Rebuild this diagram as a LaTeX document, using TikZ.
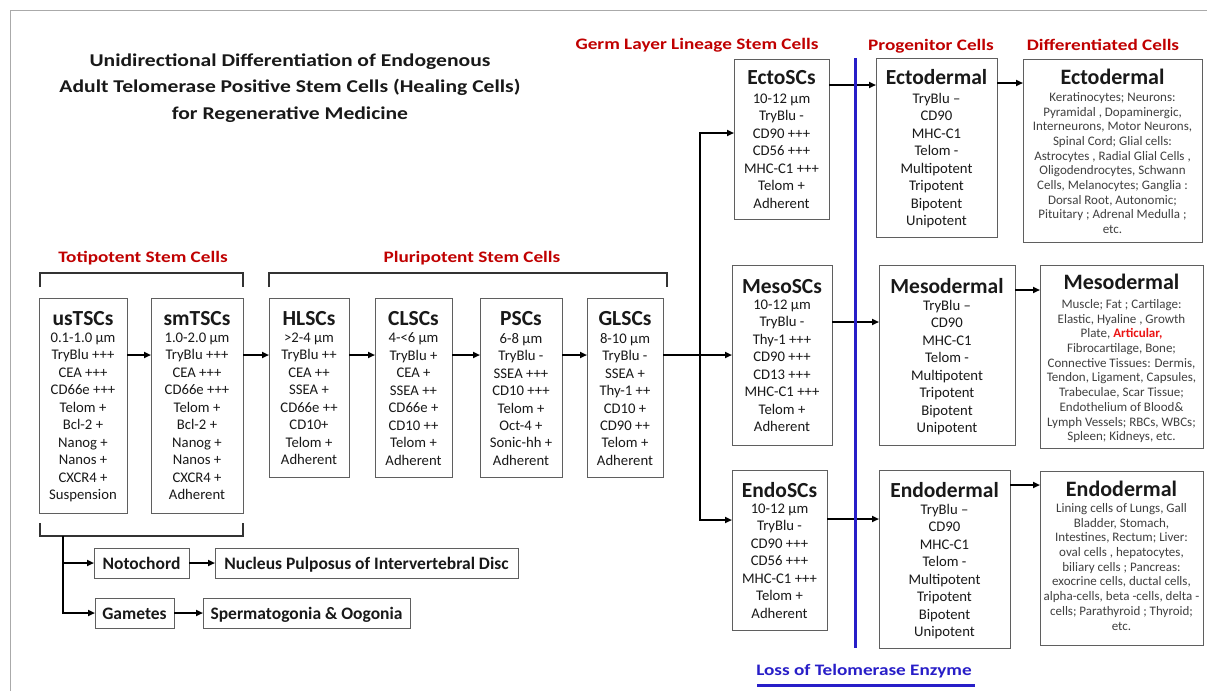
\documentclass[tikz,border=0pt]{standalone}
\usepackage{fontspec}
\setmainfont{Carlito}
\newfontfamily\widefont[FakeStretch=1.2]{Carlito}
\usetikzlibrary{arrows.meta,fit}
\definecolor{redlab}{RGB}{192,0,0}
\definecolor{redart}{RGB}{235,20,20}
\definecolor{bluel}{RGB}{40,30,200}
\definecolor{boxgray}{RGB}{95,95,95}
\definecolor{diffc}{RGB}{64,64,64}
\definecolor{txt}{RGB}{25,25,25}
\definecolor{framec}{RGB}{170,170,170}
\newcommand\mkbox[5]{%
  \path (#2,#3) coordinate (#1-nw) (#4,#5) coordinate (#1-se);
  \node[cellbox, fit=(#1-nw)(#1-se)] (#1) {};}
\newcommand\boxtext[5]{%
  \node[hdr] (#1-h) at (#1.center |- 0,#2+2) {#4};
  \node[bodytxt] (#1-b) at (#1.center |- 0,#3-9.25) {#5};}
\newcommand\difftext[5]{%
  \node[hdr, font=\fontsize{22}{26}\selectfont\bfseries] (#1-h) at (#1.center |- 0,#2+1) {#4};
  \node[diffbody] (#1-b) at (#1.center |- 0,#3-7.8) {#5};}
\begin{document}
\begin{tikzpicture}[x=1pt,y=-1pt,
  cellbox/.style={draw=boxgray, line width=0.9pt, inner sep=0pt, outer sep=0pt},
  hdr/.style={anchor=base, inner sep=0pt, font=\fontsize{21.5}{24}\selectfont\bfseries, text=txt},
  bodytxt/.style={anchor=north, align=center, inner sep=0pt, font=\fontsize{14.7}{17.5}\selectfont, text=txt, execute at begin node=\strut},
  diffbody/.style={anchor=north, align=center, inner sep=0pt, font=\fontsize{13}{14.7}\selectfont, text=diffc, execute at begin node=\strut},
  seclab/.style={anchor=base, inner sep=0pt, font=\widefont\fontsize{16}{19}\selectfont\bfseries, text=redlab},
  smalltxt/.style={anchor=base, inner sep=0pt, font=\fontsize{17.5}{20}\selectfont\bfseries, text=txt},
  arr/.style={line width=2pt, draw=black, -{Triangle[length=7pt,width=6pt]}},
  brk/.style={line width=1.8pt, draw=black!80, line join=miter},
  ]
\useasboundingbox (0,0) rectangle (1207,691);
\fill[white] (0,0) rectangle (1207,691);
\draw[framec, line width=0.8pt] (10,691) -- (10,10) -- (1207,10);

% title
\node[anchor=north, align=center, inner sep=0pt, font=\widefont\fontsize{18}{26.5}\selectfont\bfseries, text=txt, execute at begin node=\strut] (title) at (290,72-18.55)
  {Unidirectional Differentiation of Endogenous\\Adult Telomerase Positive Stem Cells (Healing Cells)\\for Regenerative Medicine};

% section labels
\node[seclab] (lab-toti) at (143,262) {Totipotent Stem Cells};
\node[seclab] (lab-pluri) at (472,262) {Pluripotent Stem Cells};
\node[seclab] (lab-germ) at (697,49) {Germ Layer Lineage Stem Cells};
\node[seclab] (lab-prog) at (931,50) {Progenitor Cells};
\node[seclab] (lab-diff) at (1103,50) {Differentiated Cells};
\node[seclab, text=bluel] (lab-loss) at (864,675) {Loss of Telomerase Enzyme};

% boxes
\mkbox{us}{39}{298}{127}{513}
\mkbox{sm}{151}{298}{243}{513}
\mkbox{hl}{269}{298}{349}{477}
\mkbox{cl}{375}{298}{452}{477}
\mkbox{ps}{480}{298}{562}{477}
\mkbox{gl}{587}{298}{663}{477}
\mkbox{ecto}{734}{59}{829}{219}
\mkbox{meso}{732}{265}{832}{445}
\mkbox{endo}{732}{470}{827}{630}
\mkbox{ectop}{876}{58}{997}{237}
\mkbox{mesop}{879}{265}{1015}{445}
\mkbox{endop}{879}{470}{1010}{648}
\mkbox{ectod}{1023}{59}{1202}{242}
\mkbox{mesod}{1040}{265}{1203}{448}
\mkbox{endod}{1040}{471}{1203}{645}
\mkbox{noto}{94}{548}{189}{578}
\mkbox{nucl}{215}{548}{518}{578}
\mkbox{gam}{95}{598}{174}{628}
\mkbox{sperm}{203}{598}{410}{628}

% box texts
\boxtext{us}{323}{342}{usTSCs}{0.1-1.0 µm\\TryBlu +++\\CEA +++\\CD66e +++\\Telom +\\Bcl-2 +\\Nanog +\\Nanos +\\CXCR4 +\\Suspension}
\boxtext{sm}{323}{342}{smTSCs}{1.0-2.0 µm\\TryBlu +++\\CEA +++\\CD66e +++\\Telom +\\Bcl-2 +\\Nanog +\\Nanos +\\CXCR4 +\\Adherent}
\boxtext{hl}{323}{342}{HLSCs}{>2-4 µm\\TryBlu ++\\CEA ++\\SSEA +\\CD66e ++\\CD10+\\Telom +\\Adherent}
\boxtext{cl}{323}{342}{CLSCs}{4-<6 µm\\TryBlu +\\CEA +\\SSEA ++\\CD66e +\\CD10 ++\\Telom +\\Adherent}
\boxtext{ps}{323}{342}{PSCs}{6-8 µm\\TryBlu -\\SSEA +++\\CD10 +++\\Telom +\\Oct-4 +\\Sonic-hh +\\Adherent}
\boxtext{gl}{323}{342}{GLSCs}{8-10 µm\\TryBlu -\\SSEA +\\Thy-1 ++\\CD10 +\\CD90 ++\\Telom +\\Adherent}
\boxtext{ecto}{82}{103}{EctoSCs}{10-12 µm\\TryBlu -\\CD90 +++\\CD56 +++\\MHC-C1 +++\\Telom +\\Adherent}
\boxtext{meso}{291}{309}{MesoSCs}{10-12 µm\\TryBlu -\\Thy-1 +++\\CD90 +++\\CD13 +++\\MHC-C1 +++\\Telom +\\Adherent}
\boxtext{endo}{495}{513}{EndoSCs}{10-12 µm\\TryBlu -\\CD90 +++\\CD56 +++\\MHC-C1 +++\\Telom +\\Adherent}
\boxtext{ectop}{82}{102}{Ectodermal}{TryBlu –\\CD90\\MHC-C1\\Telom -\\Multipotent\\Tripotent\\Bipotent\\Unipotent}
\boxtext{mesop}{291}{309}{Mesodermal}{TryBlu –\\CD90\\MHC-C1\\Telom -\\Multipotent\\Tripotent\\Bipotent\\Unipotent}
\boxtext{endop}{495}{513}{Endodermal}{TryBlu –\\CD90\\MHC-C1\\Telom -\\Multipotent\\Tripotent\\Bipotent\\Unipotent}
\difftext{ectod}{83}{100}{Ectodermal}{Keratinocytes; Neurons:\\Pyramidal , Dopaminergic,\\Interneurons, Motor Neurons,\\Spinal Cord; Glial cells:\\Astrocytes , Radial Glial Cells ,\\Oligodendrocytes, Schwann\\Cells, Melanocytes; Ganglia :\\Dorsal Root, Autonomic;\\Pituitary ; Adrenal Medulla ;\\etc.}
\difftext{mesod}{288}{307}{Mesodermal}{Muscle; Fat ; Cartilage:\\Elastic, Hyaline , Growth\\Plate, \textcolor{redart}{\bfseries Articular,}\\Fibrocartilage, Bone;\\Connective Tissues: Dermis,\\Tendon, Ligament, Capsules,\\Trabeculae, Scar Tissue;\\Endothelium of Blood\&\\Lymph Vessels; RBCs, WBCs;\\Spleen; Kidneys, etc.}
\difftext{endod}{495}{511}{Endodermal}{Lining cells of Lungs, Gall\\Bladder, Stomach,\\Intestines, Rectum; Liver:\\oval cells , hepatocytes,\\biliary cells ; Pancreas:\\exocrine cells, ductal cells,\\alpha-cells, beta -cells, delta -\\cells; Parathyroid ; Thyroid;\\etc.}
\node[smalltxt] (noto-t) at (noto.center |- 0,569) {Notochord};
\node[smalltxt] (nucl-t) at (nucl.center |- 0,569) {Nucleus Pulposus of Intervertebral Disc};
\node[smalltxt] (gam-t) at (gam.center |- 0,619) {Gametes};
\node[smalltxt] (sperm-t) at (sperm.center |- 0,619) {Spermatogonia \& Oogonia};

% brackets
\draw[brk] (40,287) -- (40,273) -- (243,273) -- (243,287);
\draw[brk] (269,287) -- (269,273) -- (667,273) -- (667,287);
\draw[brk] (40,523) -- (40,536) -- (243,536) -- (243,523);
\coordinate (trunk) at (63,536);
\draw[arr] (trunk) |- (noto.west);
\draw[arr] (trunk) |- (gam.west);
\draw[arr] (noto.east) -- (nucl.west);
\draw[arr] (gam.east) -- (sperm.west);

% main chain
\coordinate (row) at (0,355);
\draw[arr] (us.east |- row) -- (sm.west |- row);
\draw[arr] (sm.east |- row) -- (hl.west |- row);
\draw[arr] (hl.east |- row) -- (cl.west |- row);
\draw[arr] (cl.east |- row) -- (ps.west |- row);
\draw[arr] (ps.east |- row) -- (gl.west |- row);
\coordinate (j) at (700,355);
\draw[arr] (gl.east |- row) -- (meso.west |- row);
\draw[arr] (j) |- (ecto.west |- 0,133);
\draw[arr] (j) |- (endo.west |- 0,520);

% to progenitors and differentiated
\draw[arr] (ecto.east |- 0,85) -- (ectop.west |- 0,85);
\draw[arr] (meso.east |- 0,322) -- (mesop.west |- 0,322);
\draw[arr] (endo.east |- 0,519) -- (endop.west |- 0,519);
\draw[arr] (ectop.east |- 0,83) -- (ectod.west |- 0,83);
\draw[arr] (mesop.east |- 0,290) -- (mesod.west |- 0,290);
\draw[arr] (endop.east |- 0,485) -- (endod.west |- 0,485);

% telomerase line
\draw[bluel, line width=3pt] (855,58) -- (855,648);
\draw[bluel, line width=3pt] (757,685) -- (975,685);
\end{tikzpicture}
\end{document}
